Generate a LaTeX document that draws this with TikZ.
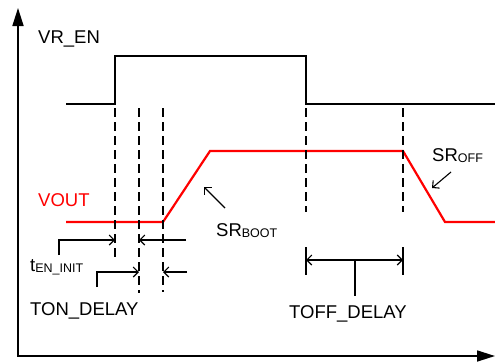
\documentclass[tikz,border=0pt]{standalone}
\usepackage{fontspec}
\setmainfont{Liberation Sans}
\usetikzlibrary{arrows.meta}
\begin{document}
\begin{tikzpicture}[x=1pt,y=-1pt,
  sig/.style={line width=2.2pt},
  vout/.style={line width=2.2pt, red},
  guide/.style={line width=1.1pt, dash pattern=on 9pt off 5pt},
  dim/.style={line width=1.1pt, -{Straight Barb[length=5pt,width=10pt]}},
  thin/.style={line width=1.1pt},
  lbl/.style={anchor=base west, inner sep=0pt, font=\fontsize{18.5}{20}\selectfont},
  ax/.style={line width=1.7pt, {Triangle[length=18pt,width=11pt]}-{Triangle[length=18pt,width=11pt]}}]
\useasboundingbox (0,0) rectangle (495,362);
\newcommand{\subtxt}[1]{\raisebox{-1.5pt}{\fontsize{12.5}{13}\selectfont #1}}
% axes
\coordinate (ytop) at (18,8);
\coordinate (orig) at (18,356);
\coordinate (xend) at (495,356);
\draw[ax] (ytop) -- (orig) -- (xend);
% VR_EN
\draw[sig] (66,104) -- (115,104) -- (115,56) -- (306,56) -- (306,104) -- (495,104);
% VOUT
\draw[vout] (66,222) -- (163,222) -- (210,151) -- (403,151) -- (445,222) -- (495,222);
% guides
\draw[guide] (115,108) -- (115,257);
\draw[guide] (139,108) -- (139,293);
\draw[guide] (163,108) -- (163,292);
\draw[guide] (306,108) -- (306,212);
\draw[guide] (403,108) -- (403,212);
% labels
\node[lbl] (vren) at (38,43) {VR\_EN};
\node[lbl, text=red] (vo) at (38,206) {VOUT};
\node[lbl] (srb) at (216,236) {SR\subtxt{BOOT}};
\node[lbl] (sro) at (432,161) {SR\subtxt{OFF}};
\node[lbl] (ten) at (30,271) {t\subtxt{EN\_INIT}};
\node[lbl] (ton) at (30,315) {TON\_DELAY};
\node[lbl, anchor=base] (toff) at (348,318) {TOFF\_DELAY};
% slew arrows
\draw[dim] (225,208) -- (204,187);
\draw[dim] (451,172) -- (432,188);
% t_EN_INIT
\draw[dim] (59,255) -- (59,240) -- (115,240);
\draw[dim] (186,240) -- (139,240);
% TON_DELAY
\draw[dim] (97,287) -- (97,272) -- (139,272);
\draw[dim] (187,272) -- (163,272);
% TOFF_DELAY
\draw[thin] (306,247) -- (306,275);
\draw[thin] (403,247) -- (403,275);
\draw[thin, {Straight Barb[length=5pt,width=10pt]}-{Straight Barb[length=5pt,width=10pt]}] (306,260) -- (403,260);
\draw[thin] (355,260) -- (355,296);
\end{tikzpicture}
\end{document}
